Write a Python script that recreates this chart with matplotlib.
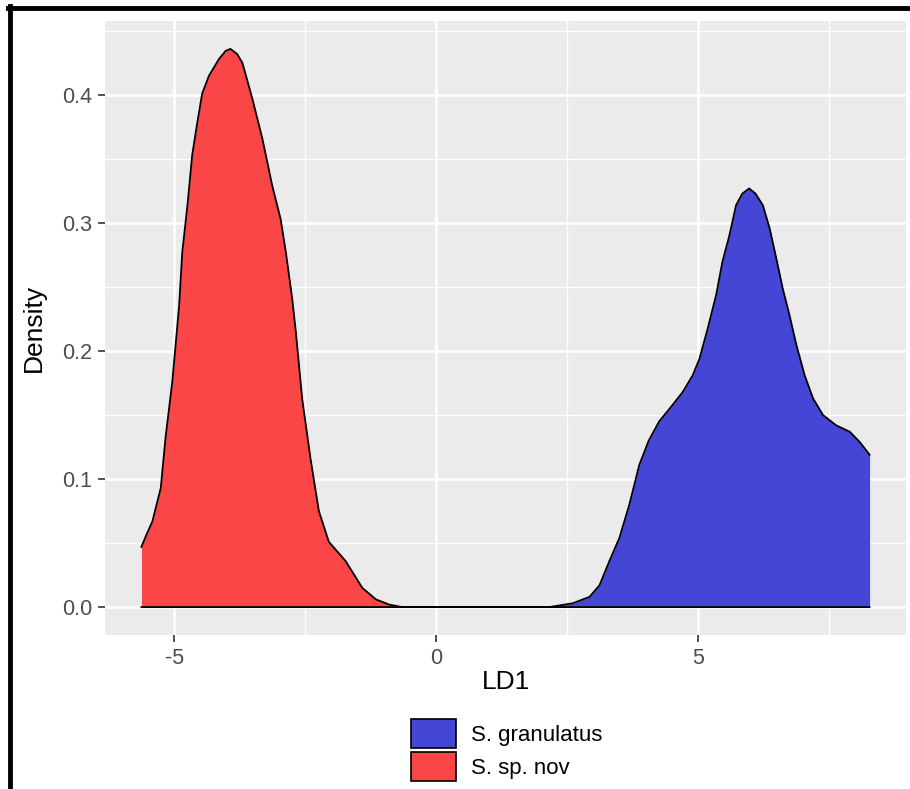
import numpy as np
import matplotlib
matplotlib.use("Agg")
import matplotlib.pyplot as plt
from matplotlib.patches import Patch
from matplotlib.lines import Line2D

# density curves (LD1, density)
granulatus_x = [-5.63, 2.16, 2.61, 2.93, 3.12, 3.31, 3.50, 3.69, 3.88, 4.06, 4.26, 4.46,
                4.71, 4.90, 5.03, 5.19, 5.35, 5.47, 5.60, 5.73, 5.85, 5.98, 6.10, 6.24,
                6.37, 6.50, 6.62, 6.75, 6.88, 7.04, 7.20, 7.39, 7.64, 7.90, 8.09, 8.28]
granulatus_y = [0.0, 0.0, 0.003, 0.008, 0.017, 0.036, 0.054, 0.080, 0.111, 0.130, 0.145, 0.155,
                0.168, 0.181, 0.194, 0.218, 0.244, 0.270, 0.290, 0.314, 0.323, 0.327, 0.323, 0.314,
                0.296, 0.272, 0.249, 0.228, 0.205, 0.181, 0.163, 0.150, 0.142, 0.137, 0.129, 0.119]

spnov_x = [-5.63, -5.55, -5.42, -5.26, -5.17, -5.04, -4.91, -4.85, -4.75, -4.66, -4.56, -4.47,
           -4.34, -4.15, -4.02, -3.93, -3.80, -3.70, -3.51, -3.32, -3.13, -2.97, -2.87, -2.75,
           -2.68, -2.56, -2.40, -2.24, -2.05, -1.73, -1.41, -1.15, -0.90, -0.65, 8.28]
spnov_y = [0.047, 0.055, 0.067, 0.093, 0.132, 0.176, 0.235, 0.277, 0.314, 0.353, 0.379, 0.401,
           0.415, 0.428, 0.4345, 0.436, 0.432, 0.425, 0.397, 0.366, 0.329, 0.303, 0.277, 0.241,
           0.215, 0.163, 0.116, 0.075, 0.051, 0.036, 0.015, 0.006, 0.002, 0.0, 0.0]

labels = ["S. granulatus", "S. sp. nov"]
colors = ["#4646D6", "#FA4646"]

x_ticks = [-5, 0, 5]
y_ticks = [0.0, 0.1, 0.2, 0.3, 0.4]

plt.rcParams["font.family"] = ["Liberation Sans", "DejaVu Sans"]

W, H = 910, 789
fig = plt.figure(figsize=(W / 100, H / 100), dpi=100)
ax = fig.add_axes([105 / W, 154 / H, (906 - 105) / W, (635 - 21) / H])
ax.set_facecolor("#EBEBEB")
for s in ax.spines.values():
    s.set_visible(False)

series = [(granulatus_x, granulatus_y), (spnov_x, spnov_y)]
for (xs, ys), col in zip(series, colors):
    ax.fill_between(xs, 0, ys, color=col, linewidth=0, zorder=2)
    ax.plot(xs, ys, color="black", lw=1.3, zorder=3, solid_joinstyle="round")

# ggplot-like 5% expansion
all_x = np.concatenate([granulatus_x, spnov_x])
all_y = np.concatenate([granulatus_y, spnov_y])
xr = all_x.max() - all_x.min()
yr = all_y.max() - all_y.min()
ax.set_xlim(all_x.min() - 0.05 * xr, all_x.max() + 0.05 * xr)
ax.set_ylim(all_y.min() - 0.05 * yr, all_y.max() + 0.05 * yr)

ax.set_xticks(x_ticks)
ax.set_xticklabels([str(t) for t in x_ticks])
ax.set_yticks(y_ticks)
ax.set_yticklabels([f"{t:.1f}" for t in y_ticks])
ax.set_xticks([-2.5, 2.5, 7.5], minor=True)
ax.set_yticks([0.05, 0.15, 0.25, 0.35, 0.45], minor=True)
ax.grid(which="major", color="white", lw=1.8, zorder=0)
ax.grid(which="minor", color="white", lw=0.9, zorder=0)
ax.set_axisbelow(True)
ax.tick_params(which="major", length=5, width=1.2, color="#333333",
               labelcolor="#4D4D4D", labelsize=15.5, pad=4)
ax.tick_params(which="minor", length=0)

ax.set_xlabel("LD1", fontsize=19, color="black", labelpad=1)
ax.set_ylabel("Density", fontsize=19, color="black", labelpad=12)

handles = [Patch(facecolor=c, edgecolor="black", linewidth=1.2) for c in colors]
fig.legend(handles, labels, loc="upper center", bbox_to_anchor=(507 / W, 1 - 708 / H),
           frameon=False, fontsize=16, handlelength=2.0, handleheight=1.65,
           handletextpad=0.7, labelspacing=0.15, borderpad=0)

# black frame around the picture (top and left edges)
fig.add_artist(Line2D([8 / W, 1.0], [1 - 8 / H, 1 - 8 / H], color="black", lw=3.5,
                      transform=fig.transFigure))
fig.add_artist(Line2D([10 / W, 10 / W], [1 - 6 / H, 0.0], color="black", lw=3.5,
                      transform=fig.transFigure))

fig.savefig("out.png", dpi=100)
